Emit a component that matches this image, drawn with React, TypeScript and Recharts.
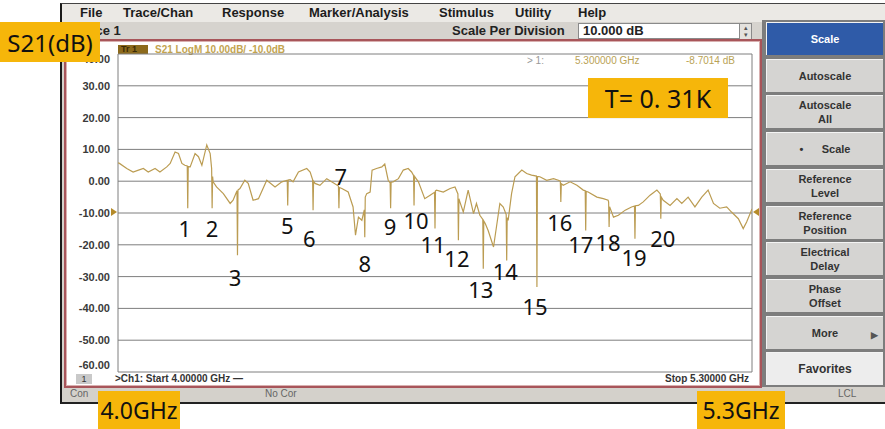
import React from 'react';
import { ComposedChart, Line, Scatter, XAxis, YAxis, CartesianGrid } from 'recharts';

// S21 trace (GHz, dB)
const traceGHz = [
  4.000, 4.003, 4.018, 4.031, 4.042, 4.052, 4.062, 4.076, 4.086, 4.100, 4.107, 4.117, 4.124, 4.131, 4.137,
  4.142, 4.143, 4.144, 4.148, 4.158, 4.165, 4.172, 4.182, 4.189, 4.192, 4.193, 4.194, 4.195, 4.202, 4.216,
  4.230, 4.236, 4.244, 4.245, 4.246, 4.250, 4.260, 4.267, 4.277, 4.288, 4.305, 4.322, 4.336, 4.347, 4.348,
  4.349, 4.353, 4.359, 4.370, 4.387, 4.394, 4.399, 4.400, 4.401, 4.404, 4.414, 4.428, 4.438, 4.452, 4.453,
  4.454, 4.459, 4.472, 4.482, 4.487, 4.493, 4.500, 4.505, 4.506, 4.507, 4.510, 4.517, 4.521, 4.530, 4.541,
  4.547, 4.554, 4.558, 4.559, 4.560, 4.564, 4.575, 4.585, 4.595, 4.602, 4.606, 4.607, 4.608, 4.616, 4.629,
  4.640, 4.649, 4.650, 4.651, 4.653, 4.667, 4.681, 4.691, 4.697, 4.698, 4.699, 4.701, 4.708, 4.718, 4.729,
  4.735, 4.742, 4.748, 4.749, 4.750, 4.753, 4.759, 4.770, 4.776, 4.783, 4.790, 4.796, 4.797, 4.798, 4.800,
  4.807, 4.814, 4.828, 4.838, 4.848, 4.858, 4.859, 4.860, 4.865, 4.879, 4.893, 4.903, 4.907, 4.908, 4.909,
  4.913, 4.927, 4.941, 4.954, 4.958, 4.959, 4.960, 4.964, 4.982, 4.995, 5.005, 5.006, 5.007, 5.008, 5.016,
  5.026, 5.040, 5.053, 5.059, 5.060, 5.061, 5.067, 5.077, 5.091, 5.105, 5.112, 5.113, 5.114, 5.118, 5.132,
  5.146, 5.156, 5.169, 5.183, 5.197, 5.210, 5.221, 5.234, 5.248, 5.258, 5.272, 5.282, 5.289, 5.300,
];
const traceDb = [
  5.8, 5.6, 4.0, 2.9, 3.5, 4.0, 2.9, 4.0, 2.9, 4.5, 5.6, 9.2, 8.7, 5.6, 5.0,
  4.8, -8.5, 4.6, 4.5, 8.7, 7.7, 5.0, 11.4, 8.7, 4.0, -8.5, 1.5, -0.2, -1.8, -3.9,
  -7.0, -6.0, -3.0, -23.3, -2.8, -2.3, 0.3, -0.7, -6.0, -5.5, 0.3, -1.8, -0.2, 0.3, -7.6,
  0.4, 0.5, -0.2, 2.9, 4.0, 2.9, 0.5, -9.1, 0.0, -0.7, -1.3, 0.8, -0.2, -1.5, -8.5,
  -2.0, -2.3, -3.4, -8.1, -17.0, -11.3, -12.3, -9.0, -17.6, -5.0, -3.9, -3.4, 3.5, 4.0, 4.5,
  5.4, 0.3, -0.5, -8.5, -0.3, -0.2, 0.8, 3.5, 4.0, 2.9, 1.8, -7.6, 1.5, -0.2, -5.5,
  -4.4, -3.5, -14.9, -3.0, -2.8, -3.4, -2.3, -1.8, -4.0, -18.6, -5.5, -6.5, -9.7, -2.8, -10.2,
  -7.0, -10.7, -12.0, -27.5, -12.5, -13.3, -15.5, -20.7, -14.4, -7.0, -8.1, -10.5, -24.9, -11.5, -12.3,
  -3.9, 1.4, 3.5, 2.4, 1.9, 1.6, -33.3, 1.5, 1.4, 0.3, 0.8, 0.3, 0.0, -6.5, -0.8,
  -1.3, -0.2, -1.3, -2.8, -3.0, -15.5, -3.2, -3.4, -5.0, -5.5, -6.0, -6.5, -14.4, -8.0, -11.3,
  -10.7, -9.1, -8.1, -7.8, -18.1, -7.7, -7.6, -6.5, -4.4, -2.8, -4.0, -11.8, -5.0, -6.0, -7.6,
  -5.5, -7.0, -5.0, -8.1, -5.0, -2.8, -7.0, -8.5, -8.1, -9.7, -11.8, -14.9, -12.8, -8.7,
];

// resonance numbers written on the screenshot, placed in chart units
const markerIds = ['1', '2', '3', '5', '6', '7', '8', '9', '10', '11', '12', '13', '14', '15', '16', '17', '18', '19', '20'];
const markerLabelGHz = [4.137, 4.193, 4.240, 4.347, 4.392, 4.457, 4.506, 4.558, 4.611, 4.646, 4.695, 4.744, 4.794, 4.855, 4.906, 4.949, 5.005, 5.058, 5.117];
const markerLabelDb = [-14.8, -14.8, -30.0, -13.9, -18.0, 1.6, -25.6, -14.2, -12.3, -19.9, -24.3, -33.8, -28.1, -39.4, -12.9, -19.9, -19.2, -23.7, -18.0];

const yTicks = [-60, -50, -40, -30, -20, -10, 0, 10, 20, 30, 40];
const xTicks = [4.0, 4.13, 4.26, 4.39, 4.52, 4.65, 4.78, 4.91, 5.04, 5.17, 5.3];

const menuItems = ['File', 'Trace/Chan', 'Response', 'Marker/Analysis', 'Stimulus', 'Utility', 'Help'];
const softkeys = ['Scale', 'Autoscale', 'Autoscale|All', '•      Scale', 'Reference|Level', 'Reference|Position', 'Electrical|Delay', 'Phase|Offset', 'More', 'Favorites'];

const menuLeft = [80, 123, 222, 309, 439, 515, 578];
const traceColor = '#bb9c52';
const ui = '"Liberation Sans", Arial, sans-serif';

function LabelMark(props: any) {
  const { cx, cy, payload } = props;
  return (
    <text x={cx} y={cy} textAnchor="middle" dominantBaseline="central"
      style={{ fontFamily: '"Noto Sans", sans-serif', fontSize: 22, fill: '#111' }}>
      {payload.id}
    </text>
  );
}

// the analyser nudges the outermost labels inside the grid
function DbTick(props: any) {
  const { x, y, payload } = props;
  const shift = payload.value === 40 ? 5 : payload.value === -60 ? -7 : 0;
  return (
    <text x={x} y={y + shift} textAnchor="end" dominantBaseline="central"
      style={{ fontSize: 11, fontWeight: 'bold', fill: '#3a3a3a', fontFamily: ui }}>
      {payload.value.toFixed(2)}
    </text>
  );
}

function Badge({ left, top, width, height, text, size }: any) {
  return (
    <div style={{
      position: 'absolute', left, top, width, height, background: '#f6b60a',
      display: 'flex', alignItems: 'center', justifyContent: 'center',
      fontFamily: '"Noto Sans", sans-serif', fontSize: size, color: '#111', whiteSpace: 'pre',
    }}>{text}</div>
  );
}

export default function App() {
  const traceData = traceGHz.map((f, i) => ({ f, db: traceDb[i] }));
  const labelData = markerIds.map((id, i) => ({ f: markerLabelGHz[i], db: markerLabelDb[i], id }));

  return (
    <div style={{ position: 'absolute', left: 0, top: 0, width: 885, height: 429, background: '#fff', overflow: 'hidden', fontFamily: ui }}>
      {/* instrument window */}
      <div style={{ position: 'absolute', left: 60, top: 3, width: 825, height: 398, background: '#d4d1cb', borderLeft: '2px solid #1a1a1a', borderTop: '1px solid #444', borderBottom: '2px solid #222' }} />
      <div style={{ position: 'absolute', left: 62, top: 4, width: 823, height: 18, background: '#ebe9e5' }} />
      {menuItems.map((m, i) => (
        <div key={m} style={{ position: 'absolute', left: menuLeft[i], top: 5, fontSize: 13, fontWeight: 'bold', color: '#1c1c1c' }}>{m}</div>
      ))}
      <div style={{ position: 'absolute', left: 62, top: 22, width: 700, height: 17, background: '#d6d3ce' }} />
      <div style={{ position: 'absolute', left: 76, top: 23, fontSize: 13, fontWeight: 'bold', color: '#222' }}>Trace 1</div>
      <div style={{ position: 'absolute', left: 452, top: 23, fontSize: 13, fontWeight: 'bold', color: '#222' }}>Scale Per Division</div>
      <div style={{ position: 'absolute', left: 578, top: 23, width: 156, height: 14, background: '#fff', border: '1px solid #8a8a8a', fontSize: 13, fontWeight: 'bold', color: '#222', paddingLeft: 4, lineHeight: '14px', boxSizing: 'content-box' }}>10.000 dB</div>
      <div style={{ position: 'absolute', left: 739, top: 23, width: 11, height: 15, background: '#e4e2de', border: '1px solid #8a8a8a', fontSize: 7, lineHeight: '7px', textAlign: 'center', color: '#555' }}>▴<br />▾</div>

      {/* graph frame */}
      <div style={{ position: 'absolute', left: 64, top: 39, width: 694, height: 345, background: '#fff', border: '2px solid #a8555a', boxShadow: 'inset 0 0 0 1px #d9b0b0' }} />
      <div style={{ position: 'absolute', left: 118, top: 45, width: 30, height: 9, background: '#8c6a1c', fontSize: 9, lineHeight: '9px', color: '#3b2a05', fontWeight: 'bold', paddingLeft: 3, boxSizing: 'border-box' }}>Tr 1</div>
      <div style={{ position: 'absolute', left: 155, top: 44, fontSize: 10, color: '#c3a450', fontWeight: 'bold' }}>S21 LogM 10.00dB/  -10.0dB</div>

      <div style={{ position: 'absolute', left: 66, top: 44 }}>
        <ComposedChart width={690} height={340} data={traceData} margin={{ top: 10, right: 4, bottom: 12, left: 0 }}>
          <CartesianGrid stroke="#7e7e7e" strokeWidth={1} />
          <XAxis type="number" dataKey="f" domain={[4, 5.3]} ticks={xTicks} allowDataOverflow
            tick={false} axisLine={false} tickLine={false} height={0} />
          <YAxis type="number" domain={[-60, 40]} ticks={yTicks} allowDataOverflow width={52}
            axisLine={false} tickLine={false} tickMargin={2} tick={DbTick} />
          <Line type="linear" dataKey="db" stroke={traceColor} strokeWidth={1.2} dot={false} isAnimationActive={false} />
          <Scatter data={labelData} dataKey="db" shape={LabelMark} isAnimationActive={false} />
        </ComposedChart>
      </div>

      {/* reference level arrows at -10 dB */}
      <div style={{ position: 'absolute', left: 111, top: 208, width: 0, height: 0, borderTop: '4px solid transparent', borderBottom: '4px solid transparent', borderLeft: '6px solid #b58b2a' }} />
      <div style={{ position: 'absolute', left: 753, top: 208, width: 0, height: 0, borderTop: '4px solid transparent', borderBottom: '4px solid transparent', borderRight: '6px solid #b58b2a' }} />

      {/* marker readout */}
      <div style={{ position: 'absolute', left: 527, top: 55, fontSize: 10, color: '#999' }}>&gt; 1:</div>
      <div style={{ position: 'absolute', left: 575, top: 55, fontSize: 10, color: '#b9a255' }}>5.300000 GHz</div>
      <div style={{ position: 'absolute', left: 686, top: 55, fontSize: 10, color: '#b9a255' }}>-8.7014 dB</div>

      {/* bottom of graph */}
      <div style={{ position: 'absolute', left: 76, top: 374, width: 16, height: 10, background: '#c9c9c9', fontSize: 9, lineHeight: '10px', textAlign: 'center', color: '#333' }}>1</div>
      <div style={{ position: 'absolute', left: 115, top: 373, fontSize: 10, color: '#333', fontWeight: 'bold' }}>&gt;Ch1: Start  4.00000 GHz  —</div>
      <div style={{ position: 'absolute', left: 620, width: 129, top: 373, fontSize: 10, color: '#333', fontWeight: 'bold', textAlign: 'right' }}>Stop  5.30000 GHz</div>

      {/* status bar */}
      <div style={{ position: 'absolute', left: 62, top: 388, width: 823, height: 12, background: '#d4d1cb' }} />
      <div style={{ position: 'absolute', left: 70, top: 388, fontSize: 10, color: '#666' }}>Con</div>
      <div style={{ position: 'absolute', left: 265, top: 388, fontSize: 10, color: '#666' }}>No Cor</div>
      <div style={{ position: 'absolute', left: 838, top: 388, fontSize: 10, color: '#666' }}>LCL</div>

      {/* softkey panel */}
      <div style={{ position: 'absolute', left: 762, top: 20, width: 123, height: 367, background: '#7d7d7d' }} />
      {softkeys.map((k, i) => {
        const top = 22 + i * 36.7;
        const first = i === 0;
        const fav = i === softkeys.length - 1;
        return (
          <div key={k} style={{
            position: 'absolute', left: 766, top, width: 117, height: 33,
            background: first ? '#2f5ba8' : fav ? '#ededed' : '#d5d4d2',
            borderTop: '1px solid #f4f4f4', borderLeft: '1px solid #f4f4f4', boxSizing: 'border-box',
            display: 'flex', flexDirection: 'column', alignItems: 'center', justifyContent: 'center',
            fontSize: fav ? 12 : 11, fontWeight: 'bold', color: first ? '#fff' : '#333', lineHeight: '14px',
          }}>
            {k.split('|').map((s) => <span key={s} style={{ whiteSpace: 'pre' }}>{s}</span>)}
            {k === 'More' && <span style={{ position: 'absolute', right: 5, top: 11, fontSize: 9, color: '#555' }}>▶</span>}
          </div>
        );
      })}

      {/* overlay annotations */}
      <Badge left={0} top={22} width={100} height={40} text="S21(dB)" size={24} />
      <Badge left={588} top={78} width={140} height={40} text="T= 0. 31K" size={25} />
      <Badge left={98} top={391} width={82} height={38} text="4.0GHz" size={23} />
      <Badge left={697} top={391} width={88} height={38} text="5.3GHz" size={23} />
    </div>
  );
}
